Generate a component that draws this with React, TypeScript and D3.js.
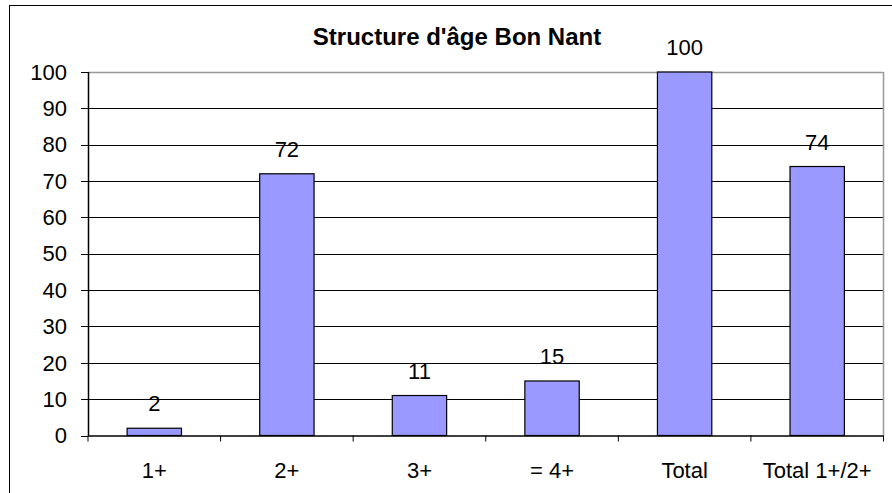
import React from 'react';
import * as d3 from 'd3';

const categories = ['1+', '2+', '3+', '= 4+', 'Total', 'Total 1+/2+'];
const values = [2, 72, 11, 15, 100, 74];
const yTicks = [0, 10, 20, 30, 40, 50, 60, 70, 80, 90, 100];
const title = "Structure d'âge Bon Nant";

const W = 892;
const H = 493;
const margin = { top: 72, right: 8.5, bottom: 57.5, left: 88 };
const font = '"Liberation Sans", Arial, sans-serif';

export default function App() {
  const innerW = W - margin.left - margin.right;
  const innerH = H - margin.top - margin.bottom;

  const x = d3.scaleBand<string>()
    .domain(categories)
    .range([0, innerW])
    .paddingInner(0.59)
    .paddingOuter(0.295);
  const y = d3.scaleLinear().domain([0, 100]).range([innerH, 0]);

  const step = x.step();
  const x0 = (x(categories[0]) as number) - x.paddingOuter() * step;
  const bounds = d3.range(categories.length + 1).map(i => x0 + i * step);

  return (
    <svg width={W} height={H} style={{ position: 'absolute', left: 0, top: 0, background: '#fff' }}
      fontFamily={font}>
      <rect x={9.5} y={5.5} width={W + 20} height={H + 20} fill="#fff" stroke="#000" strokeWidth={1} />
      <text x={457} y={45} textAnchor="middle" fontWeight="bold" fontSize={24}>{title}</text>
      <g transform={`translate(${margin.left},${margin.top})`}>
        {/* grid lines */}
        {yTicks.filter(t => t > 0 && t < 100).map(t => (
          <line key={t} x1={0} x2={innerW} y1={Math.round(y(t)) + 0.5} y2={Math.round(y(t)) + 0.5}
            stroke="#000" strokeWidth={1} />
        ))}
        {/* plot area border top/right */}
        <line x1={0} x2={innerW} y1={0.5} y2={0.5} stroke="#999" strokeWidth={1.5} />
        <line x1={innerW} x2={innerW} y1={0} y2={innerH} stroke="#999" strokeWidth={1.5} />
        {/* bars */}
        {categories.map((c, i) => (
          <rect key={c} x={x(c)} y={y(values[i])} width={x.bandwidth()} height={innerH - y(values[i])}
            fill="#9999FF" stroke="#000" strokeWidth={1.2} />
        ))}
        {categories.map((c, i) => (
          <text key={c} x={(x(c) as number) + x.bandwidth() / 2} y={y(values[i]) - 17}
            textAnchor="middle" fontSize={22}>{values[i]}</text>
        ))}
        {/* y axis */}
        <line x1={0.5} x2={0.5} y1={0} y2={innerH} stroke="#000" strokeWidth={1.5} />
        {yTicks.map(t => (
          <g key={t}>
            <line x1={-7} x2={0} y1={Math.round(y(t)) + 0.5} y2={Math.round(y(t)) + 0.5} stroke="#000" strokeWidth={1} />
            <text x={-21} y={y(t)} dy="0.35em" textAnchor="end" fontSize={22}>{t}</text>
          </g>
        ))}
        {/* x axis */}
        <line x1={0} x2={innerW} y1={innerH + 0.5} y2={innerH + 0.5} stroke="#000" strokeWidth={1.5} />
        {bounds.map((b, i) => (
          <line key={i} x1={b} x2={b} y1={innerH} y2={innerH + 6} stroke="#000" strokeWidth={1} />
        ))}
        {categories.map(c => (
          <text key={c} x={(x(c) as number) + x.bandwidth() / 2} y={innerH + 42}
            textAnchor="middle" fontSize={22}>{c}</text>
        ))}
      </g>
    </svg>
  );
}
